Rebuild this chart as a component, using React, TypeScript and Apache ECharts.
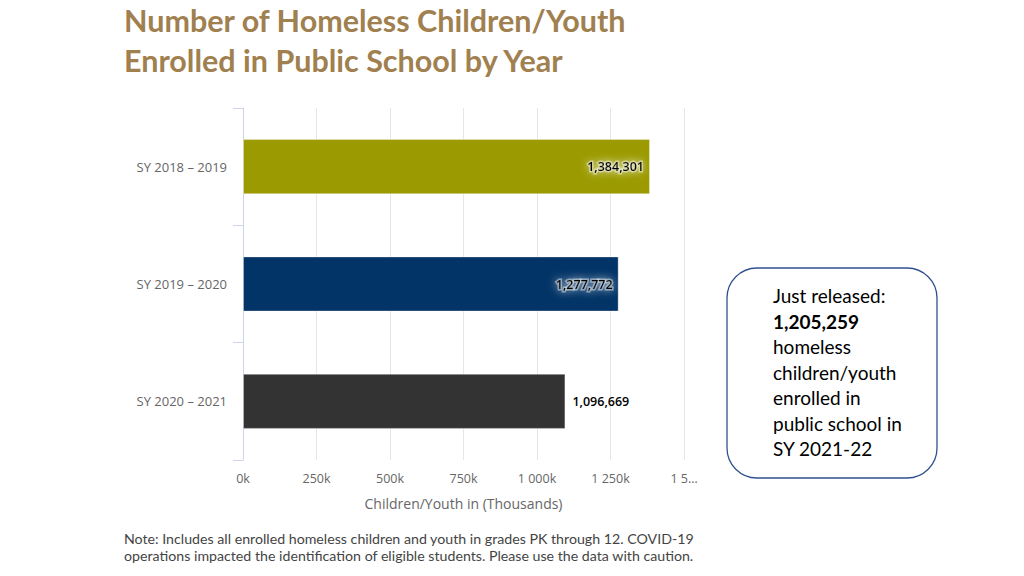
import React, { useEffect, useRef } from "react";
import * as echarts from "echarts";

const categories = ["SY 2018 – 2019", "SY 2019 – 2020", "SY 2020 – 2021"];
const values = [1384301, 1277772, 1096669];
const barColors = ["#9b9a00", "#033467", "#333333"];
const labelInside = [true, true, false];
const xTickValues = [0, 250000, 500000, 750000, 1000000, 1250000, 1500000];
const xTickLabels = ["0k", "250k", "500k", "750k", "1 000k", "1 250k", "1 5…"];
const titleLines = ["Number of Homeless Children/Youth", "Enrolled in Public School by Year"];
const noteLines = [
  "Note: Includes all enrolled homeless children and youth in grades PK through 12. COVID-19",
  "operations impacted the identification of eligible students. Please use the data with caution.",
];
const boxLines = [
  { text: "Just released:", bold: false },
  { text: "1,205,259", bold: true },
  { text: "homeless", bold: false },
  { text: "children/youth", bold: false },
  { text: "enrolled in", bold: false },
  { text: "public school in", bold: false },
  { text: "SY 2021-22", bold: false },
];

const fmt = (v: number) => v.toLocaleString("en-US");

export default function App() {
  const ref = useRef<HTMLDivElement>(null);
  useEffect(() => {
    if (!ref.current) return;
    const chart = echarts.init(ref.current, null, { renderer: "svg" });
    const font = "Lato, 'Open Sans', sans-serif";
    const font2 = "'Open Sans', Lato, sans-serif";
    chart.setOption({
      animation: false,
      backgroundColor: "#ffffff",
      textStyle: { fontFamily: font2 },
      grid: { left: 243, right: 340, top: 108, bottom: 116 },
      xAxis: {
        type: "value",
        min: 0,
        max: 1500000,
        interval: 250000,
        name: "Children/Youth in (Thousands)",
        nameLocation: "middle",
        nameGap: 36,
        nameTextStyle: { color: "#666666", fontSize: 14, fontFamily: font2 },
        axisLine: { show: false },
        axisTick: { show: false },
        splitLine: { lineStyle: { color: "#e6e6e6", width: 1 } },
        axisLabel: {
          color: "#666666",
          fontSize: 12.5,
          fontFamily: font2,
          margin: 12,
          formatter: (v: number) => {
            const i = xTickValues.indexOf(v);
            return i >= 0 ? xTickLabels[i] : "";
          },
        },
      },
      yAxis: {
        type: "category",
        data: categories,
        inverse: true,
        axisLine: { show: true, lineStyle: { color: "#ccd6eb" } },
        axisTick: { show: true, length: 10, lineStyle: { color: "#ccd6eb" } },
        axisLabel: { color: "#666666", fontSize: 13, fontFamily: font2, margin: 16 },
        splitLine: { show: false },
      },
      series: [
        {
          type: "bar",
          barWidth: "47%",
          data: values.map((v, i) => ({
            value: v,
            itemStyle: { color: barColors[i], borderColor: "rgba(255,255,255,0.35)", borderWidth: 1 },
            label: {
              show: true,
              position: labelInside[i] ? "insideRight" : "right",
              distance: labelInside[i] ? 6 : 7,
              formatter: () => fmt(v),
              color: "#000000",
              fontSize: 12.5,
              fontWeight: 600,
              fontFamily: font2,
              textBorderColor: labelInside[i] ? "rgba(255,255,255,0.45)" : "transparent",
              textBorderWidth: labelInside[i] ? 3 : 0,
              textShadowColor: labelInside[i] ? "rgba(255,255,255,0.8)" : "transparent",
              textShadowBlur: labelInside[i] ? 8 : 0,
            },
          })),
        },
      ],
      graphic: [
        ...titleLines.map((t, i) => ({
          type: "text",
          left: 124,
          top: 4 + i * 40,
          style: { text: t, fill: "#a0804f", font: `bold 30.5px ${font}` },
        })),
        ...noteLines.map((t, i) => ({
          type: "text",
          left: 124,
          top: 531 + i * 17,
          style: { text: t, fill: "#444444", font: `14.2px ${font}` },
        })),
        {
          type: "rect",
          shape: { x: 727, y: 268, width: 210, height: 210, r: 30 },
          style: { fill: "#ffffff", stroke: "#2f528f", lineWidth: 1.3 },
        },
        ...boxLines.map((l, i) => ({
          type: "text",
          left: 773,
          top: 286 + i * 25.5,
          style: {
            text: l.text,
            fill: "#000000",
            font: `${l.bold ? "bold " : ""}19px ${font}`,
          },
        })),
      ],
    });
    return () => chart.dispose();
  }, []);
  return <div ref={ref} style={{ width: 1024, height: 576, position: "absolute", left: 0, top: 0 }} />;
}
